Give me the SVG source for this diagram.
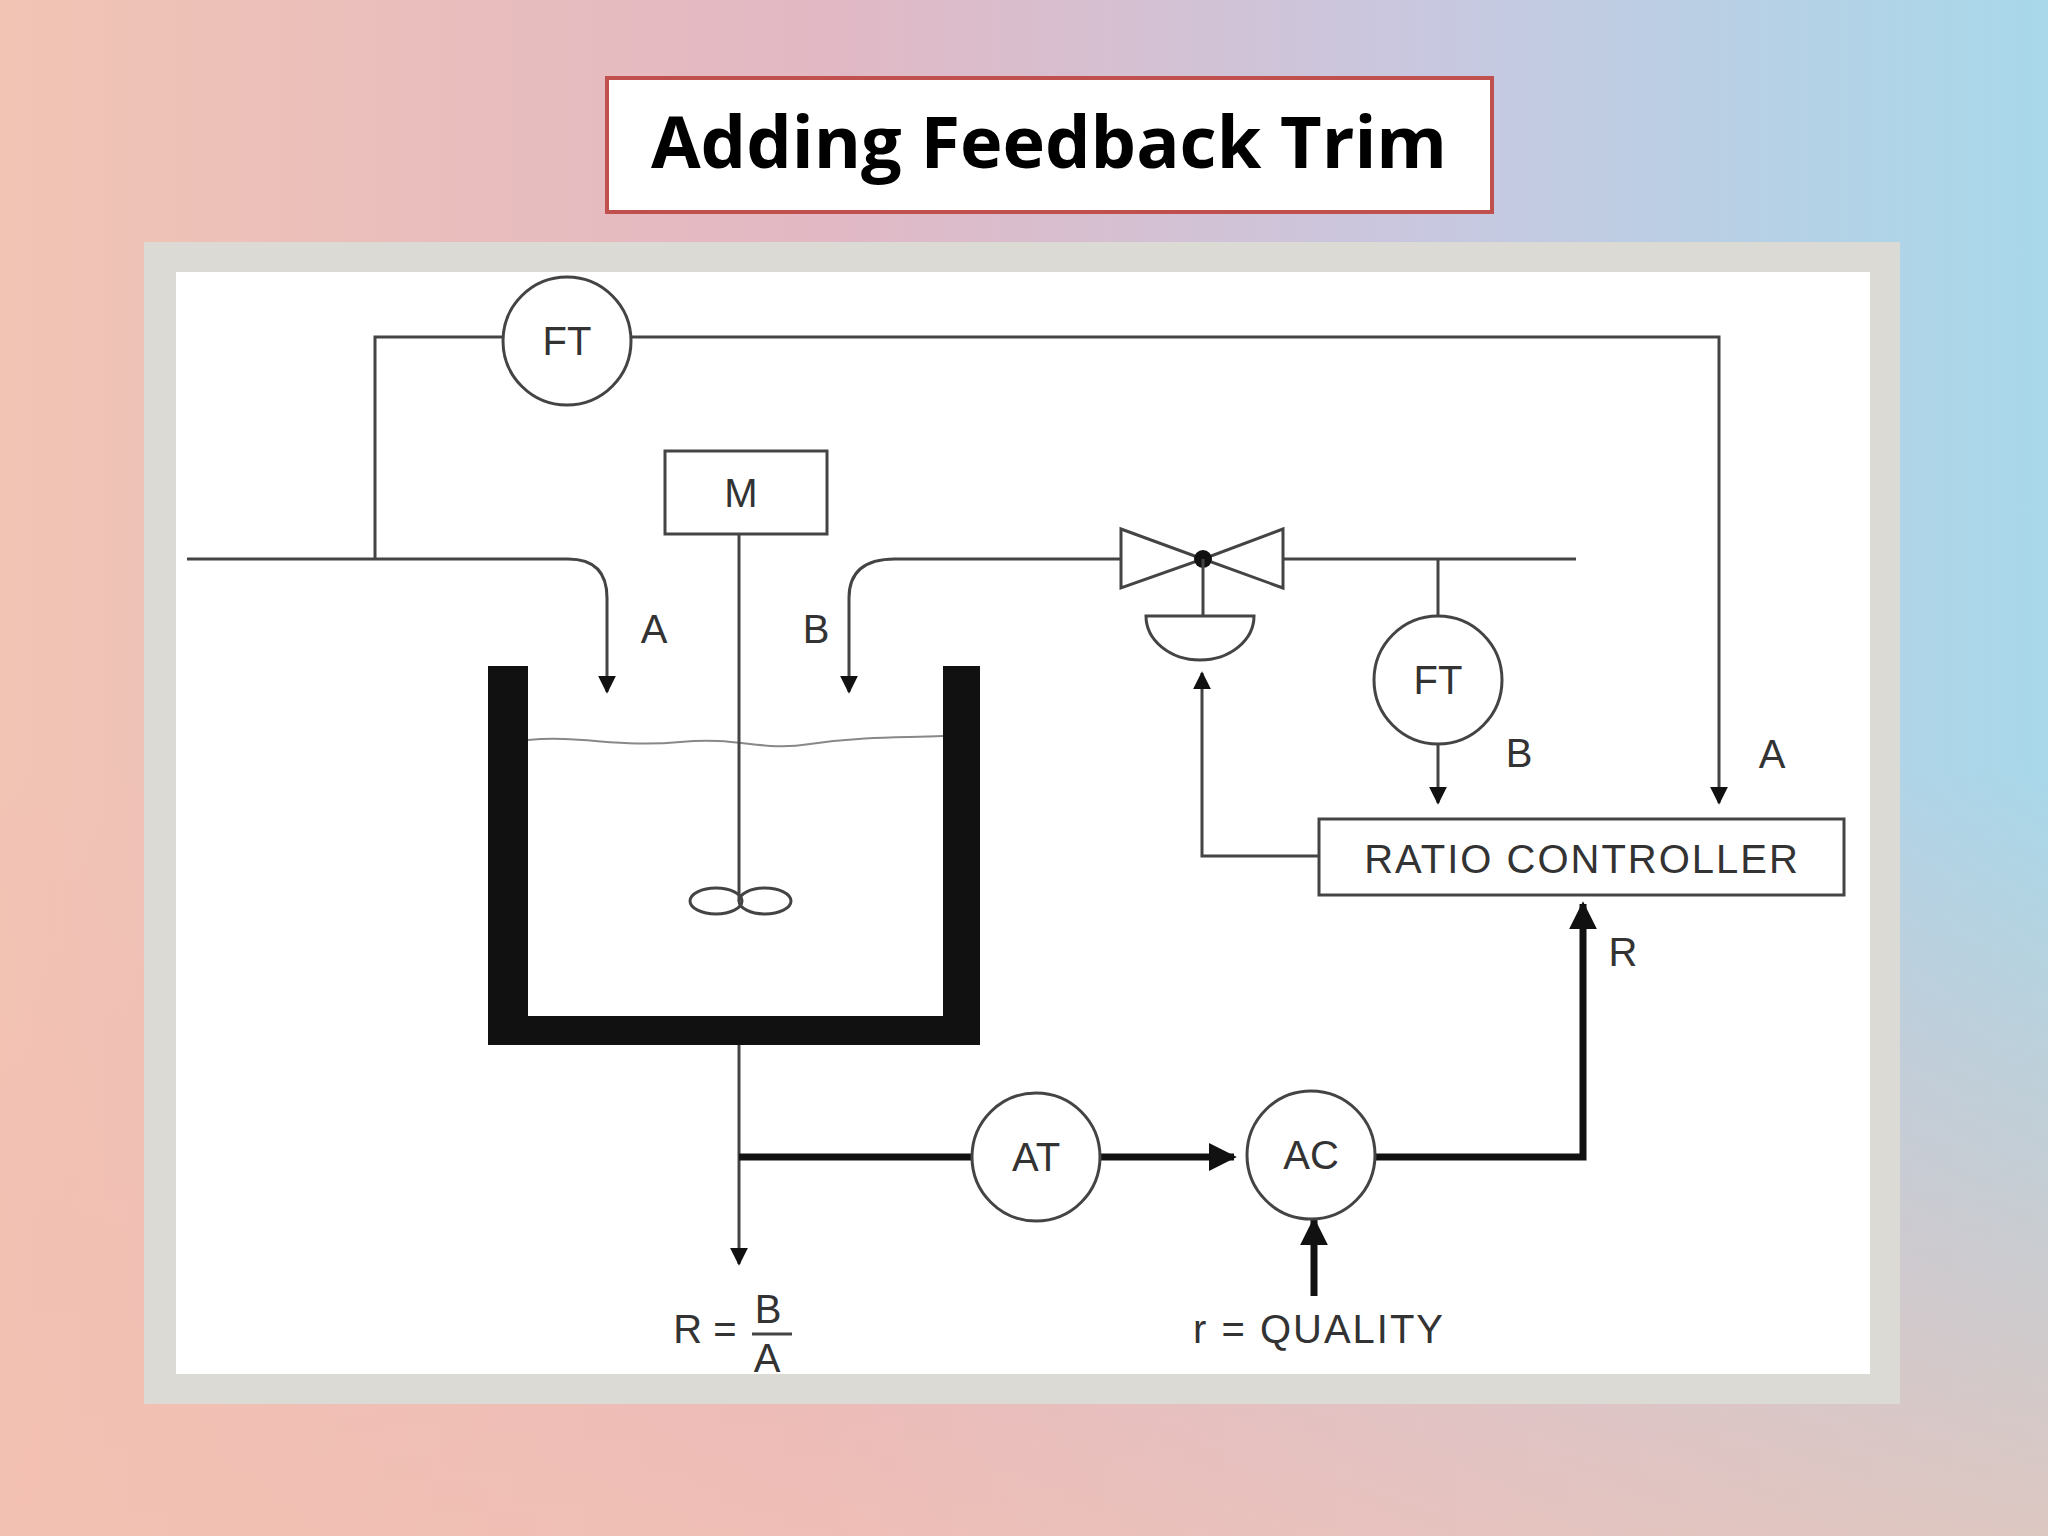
<svg xmlns="http://www.w3.org/2000/svg" width="2048" height="1536" viewBox="0 0 2048 1536">
<defs>
<linearGradient id="bg" x1="0" y1="0" x2="1" y2="0">
<stop offset="0" stop-color="#f2c4b4"/><stop offset="0.4" stop-color="#e2b8c4"/><stop offset="0.7" stop-color="#c8c8e0"/><stop offset="1" stop-color="#a8d8ea"/>
</linearGradient>
<linearGradient id="bg2" x1="0" y1="0" x2="0" y2="1">
<stop offset="0.5" stop-color="#f4b8b0" stop-opacity="0"/><stop offset="1" stop-color="#f4c0b0" stop-opacity="0.7"/>
</linearGradient>
<marker id="ah" viewBox="0 0 10 10" refX="9" refY="5" markerWidth="6" markerHeight="6" orient="auto"><path d="M0,0L10,5L0,10z" fill="#111"/></marker>
<marker id="ahb" viewBox="0 0 10 10" refX="9" refY="5" markerWidth="4" markerHeight="4" orient="auto"><path d="M0,0L10,5L0,10z" fill="#111"/></marker>
<style>
.l{fill:none;stroke:#444;stroke-width:3}
.t{fill:none;stroke:#111;stroke-width:7}
.c{fill:#fff;stroke:#444;stroke-width:3}
.tx{font-family:"Liberation Sans",Arial,sans-serif;font-size:40px;fill:#333;text-anchor:middle}
</style>
</defs>
<rect width="2048" height="1536" fill="url(#bg)"/>
<rect width="2048" height="1536" fill="url(#bg2)"/>
<g id="title">
<rect x="607" y="78" width="885" height="134" fill="#fff" stroke="#c0504d" stroke-width="4"/>
<text x="1049" y="168" font-family="'Open Sans','Liberation Sans',sans-serif" font-weight="bold" font-size="72" text-anchor="middle" fill="#000">Adding Feedback Trim</text>
</g>
<rect x="144" y="242" width="1756" height="1162" fill="#dcdad4"/>
<rect x="176" y="272" width="1694" height="1102" fill="#fff"/>
<g id="tank">
<rect x="488" y="666" width="40" height="379" fill="#111"/>
<rect x="943" y="666" width="37" height="379" fill="#111"/>
<rect x="488" y="1016" width="492" height="29" fill="#111"/>
<path d="M528,740 C580,735 620,748 680,742 C740,736 760,752 810,744 C870,736 900,738 943,736" fill="none" stroke="#888" stroke-width="2"/>
</g>
<g id="mixer">
<rect x="665" y="451" width="162" height="83" class="c"/>
<text x="741" y="507" class="tx">M</text>
<line x1="739" y1="534" x2="739" y2="901" class="l"/>
<ellipse cx="716" cy="901" rx="26" ry="13" class="l"/>
<ellipse cx="765" cy="901" rx="26" ry="13" class="l"/>
</g>
<g id="connectors">
<path d="M375,559 V337 H503" class="l"/>
<path d="M631,337 H1719 V803" class="l" marker-end="url(#ah)"/>
<path d="M187,559 H568 Q607,559 607,598 V692" class="l" marker-end="url(#ah)"/>
<path d="M1121,559 H895 Q849,559 849,598 V692" class="l" marker-end="url(#ah)"/>
<path d="M1283,559 H1576" class="l"/>
<path d="M1438,559 V616" class="l"/>
<path d="M1438,744 V803" class="l" marker-end="url(#ah)"/>
<path d="M1319,856 H1202 V673" class="l" marker-end="url(#ah)"/>
<path d="M739,1045 V1264" class="l" marker-end="url(#ah)"/>
<path d="M739,1157 H972" class="t"/>
<path d="M1100,1157 H1234" class="t" marker-end="url(#ahb)"/>
<path d="M1375,1157 H1583 V904" class="t" marker-end="url(#ahb)"/>
<path d="M1314,1296 V1220" class="t" marker-end="url(#ahb)"/>
</g>
<g id="valve">
<path d="M1121,529 L1203,559 L1121,588 Z M1283,529 L1203,559 L1283,588 Z" class="c"/>
<circle cx="1203" cy="559" r="9" fill="#111"/>
<line x1="1203" y1="559" x2="1203" y2="616" class="l"/>
<path d="M1146,616 H1254 A54,44 0 0 1 1146,616 Z" class="c"/>
</g>
<g id="ft1"><circle cx="567" cy="341" r="64" class="c"/><text x="567" y="355" class="tx">FT</text></g>
<g id="ft2"><circle cx="1438" cy="680" r="64" class="c"/><text x="1438" y="694" class="tx">FT</text></g>
<g id="at"><circle cx="1036" cy="1157" r="64" class="c"/><text x="1036" y="1171" class="tx">AT</text></g>
<g id="ac"><circle cx="1311" cy="1155" r="64" class="c"/><text x="1311" y="1169" class="tx">AC</text></g>
<g id="ratio"><rect x="1319" y="819" width="525" height="76" class="c"/><text x="1582" y="873" class="tx" letter-spacing="2">RATIO CONTROLLER</text></g>
<g id="labels">
<text x="654" y="643" class="tx">A</text>
<text x="816" y="643" class="tx">B</text>
<text x="1519" y="767" class="tx">B</text>
<text x="1772" y="768" class="tx" font-size="46">A</text>
<text x="1623" y="966" class="tx">R</text>
<text x="1319" y="1343" class="tx" letter-spacing="2">r = QUALITY</text>
<text x="705" y="1343" class="tx">R =</text>
<text x="768" y="1323" class="tx">B</text>
<line x1="752" y1="1334" x2="792" y2="1334" stroke="#444" stroke-width="3"/>
<text x="767" y="1372" class="tx">A</text>
</g>
</svg>
